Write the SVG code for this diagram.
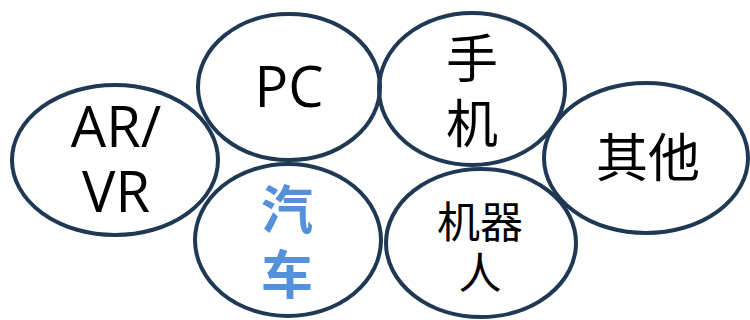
<svg xmlns="http://www.w3.org/2000/svg" width="750" height="320" viewBox="0 0 750 320">
<style>
.n{fill:none;stroke:#1F3853;stroke-width:4}
.t{font-family:"Open Sans","Noto Sans CJK SC",sans-serif;fill:#000;text-anchor:middle}
.c{font-family:"Noto Sans CJK SC","Noto Sans",sans-serif;fill:#000;text-anchor:middle}
.b{font-family:"Noto Sans CJK SC",sans-serif;fill:#5590DA;font-weight:bold;text-anchor:middle}
</style>
<rect width="750" height="320" fill="#fff"/>
<g id="arvr"><ellipse class="n" cx="115" cy="160" rx="103" ry="75"/><text class="t" x="116" y="147" font-size="56">AR/</text><text class="t" x="116" y="212" font-size="56">VR</text></g>
<g id="pc"><ellipse class="n" cx="289" cy="87" rx="91" ry="73"/><text class="t" x="289" y="107" font-size="56">PC</text></g>
<g id="phone"><ellipse class="n" cx="472" cy="89" rx="93" ry="76"/><text class="c" x="472" y="78" font-size="52">手</text><text class="c" x="472" y="143" font-size="52">机</text></g>
<g id="other"><ellipse class="n" cx="646" cy="158" rx="102" ry="75"/><text class="c" x="648" y="177" font-size="52">其他</text></g>
<g id="car"><ellipse class="n" cx="288" cy="240" rx="93" ry="76"/><text class="b" x="287" y="229" font-size="52">汽</text><text class="b" x="287" y="294" font-size="52">车</text></g>
<g id="robot"><ellipse class="n" cx="481" cy="243" rx="95" ry="74"/><text class="c" x="480" y="238" font-size="43">机器</text><text class="c" x="480" y="289" font-size="43">人</text></g>
</svg>
